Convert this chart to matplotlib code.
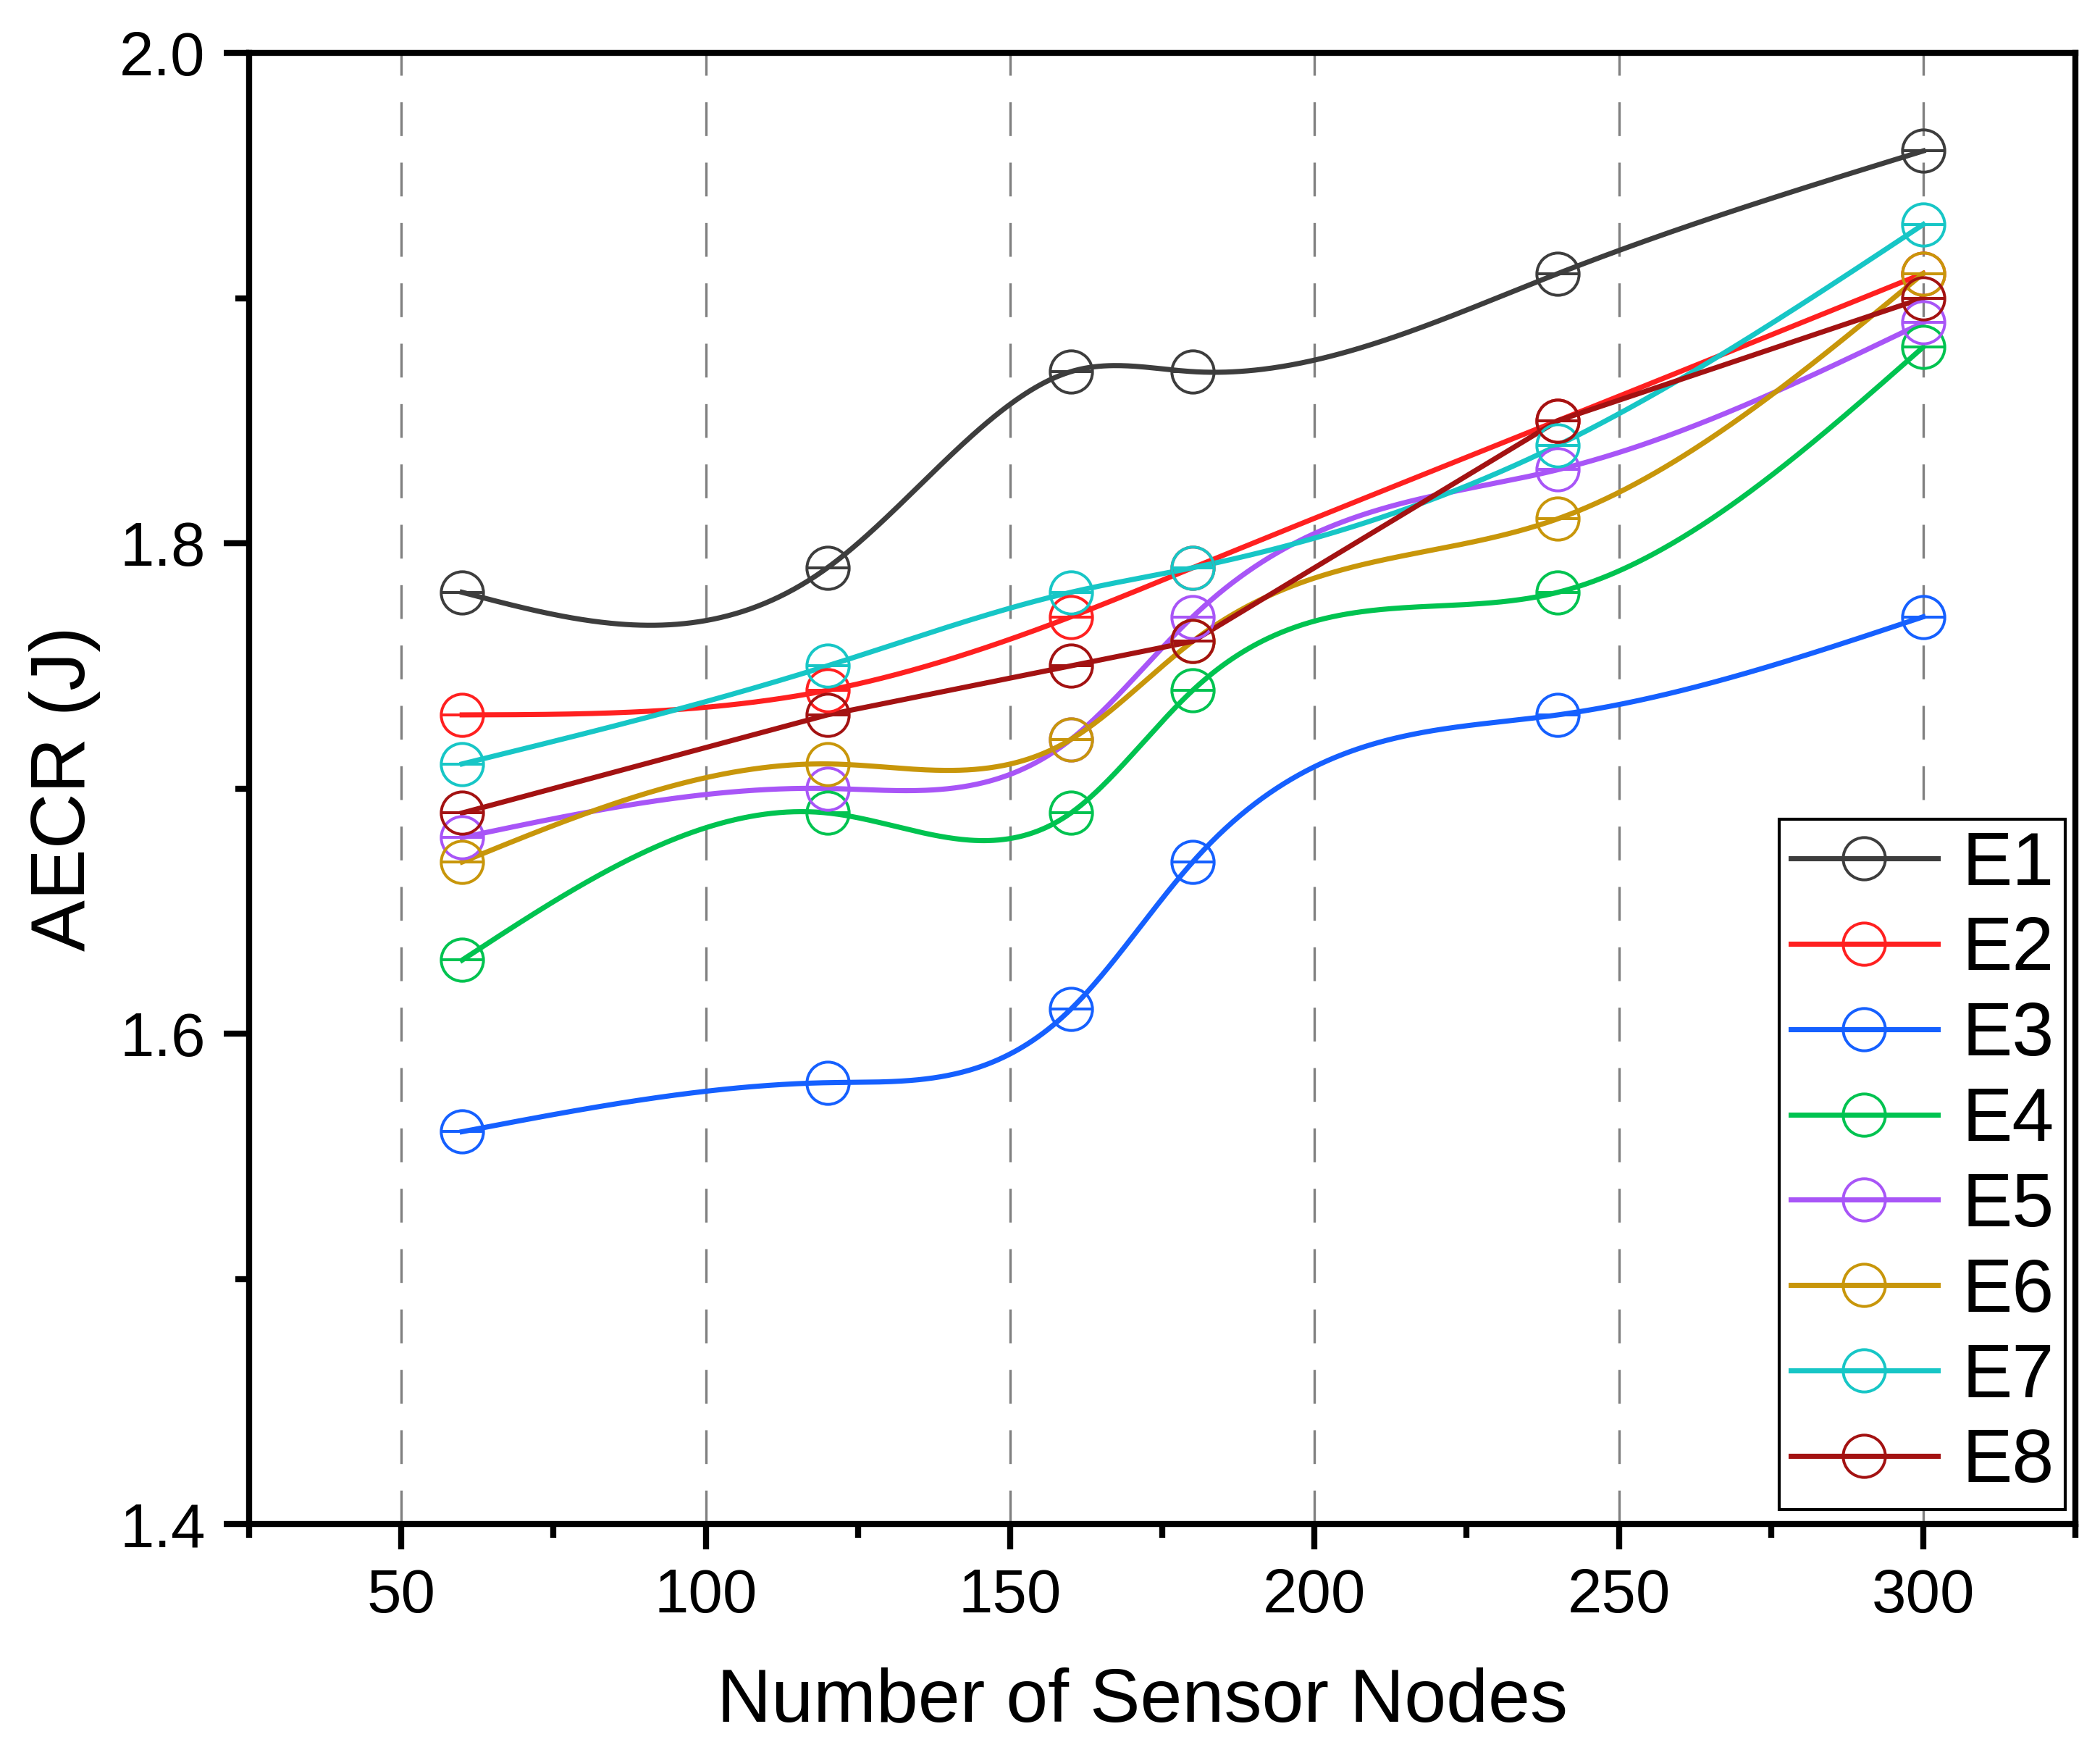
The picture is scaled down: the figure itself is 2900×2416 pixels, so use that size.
import numpy as np
import matplotlib
matplotlib.use("Agg")
import matplotlib.pyplot as plt
from matplotlib.lines import Line2D

plt.rcParams['font.family'] = ['Liberation Sans', 'DejaVu Sans']

# ---------------- data ----------------
nodes = [60, 120, 160, 180, 240, 300]
series_names = ["E1", "E2", "E3", "E4", "E5", "E6", "E7", "E8"]
E1 = [1.78, 1.79, 1.87, 1.87, 1.91, 1.96]
E2 = [1.73, 1.74, 1.77, 1.79, 1.85, 1.91]
E3 = [1.56, 1.58, 1.61, 1.67, 1.73, 1.77]
E4 = [1.63, 1.69, 1.69, 1.74, 1.78, 1.88]
E5 = [1.68, 1.70, 1.72, 1.77, 1.83, 1.89]
E6 = [1.67, 1.71, 1.72, 1.76, 1.81, 1.91]
E7 = [1.71, 1.75, 1.78, 1.79, 1.84, 1.93]
E8 = [1.69, 1.73, 1.75, 1.76, 1.85, 1.90]
series_values = [E1, E2, E3, E4, E5, E6, E7, E8]
series_smooth = [True, True, True, True, True, True, True, False]
colors = ['#3d3d3d', '#ff2020', '#1560ff', '#00c350', '#a855f7',
          '#c8960a', '#17c6c6', '#a31212']

x_ticks = [50, 100, 150, 200, 250, 300]
y_ticks = [1.4, 1.6, 1.8, 2.0]
y_tick_labels = ["1.4", "1.6", "1.8", "2.0"]


def natural_spline(x, y, xs):
    x = np.asarray(x, float)
    y = np.asarray(y, float)
    n = len(x)
    h = np.diff(x)
    A = np.zeros((n, n))
    b = np.zeros(n)
    A[0, 0] = 1.0
    A[-1, -1] = 1.0
    for i in range(1, n - 1):
        A[i, i - 1] = h[i - 1]
        A[i, i] = 2 * (h[i - 1] + h[i])
        A[i, i + 1] = h[i]
        b[i] = 6 * ((y[i + 1] - y[i]) / h[i] - (y[i] - y[i - 1]) / h[i - 1])
    M = np.linalg.solve(A, b)
    ys = np.empty_like(xs)
    for k, xv in enumerate(xs):
        i = min(max(np.searchsorted(x, xv) - 1, 0), n - 2)
        t1 = x[i + 1] - xv
        t0 = xv - x[i]
        ys[k] = (M[i] * t1 ** 3 / (6 * h[i]) + M[i + 1] * t0 ** 3 / (6 * h[i])
                 + (y[i] / h[i] - M[i] * h[i] / 6) * t1
                 + (y[i + 1] / h[i] - M[i + 1] * h[i] / 6) * t0)
    return ys


fig = plt.figure(figsize=(2900 / 300, 2416 / 300), dpi=300)
ax = fig.add_axes([344 / 2900, 1 - 2104 / 2416, (2866 - 344) / 2900, (2104 - 73) / 2416])

# vertical dashed grid
for xv in x_ticks:
    ax.axvline(xv, color='#808080', lw=0.8, dashes=(14, 11), zorder=0.5)

LW = 1.7
MS = 14.0
MEW = 0.95
handles = []
for name, vals, smooth, c in zip(series_names, series_values, series_smooth, colors):
    if smooth:
        xs = np.linspace(nodes[0], nodes[-1], 600)
        ys = natural_spline(nodes, vals, xs)
    else:
        xs, ys = np.asarray(nodes, float), np.asarray(vals, float)
    ax.plot(xs, ys, color=c, lw=LW, zorder=2)
    ax.plot(nodes, vals, linestyle='none', marker='o', ms=MS, mfc='none',
            mec=c, mew=MEW, zorder=3)
    ax.plot(nodes, vals, linestyle='none', marker='_', ms=MS, mec=c,
            mew=MEW, zorder=3)
    handles.append(Line2D([], [], color=c, lw=LW, marker='o', ms=MS,
                          mfc='none', mec=c, mew=MEW, label=name))

ax.set_xlim(25, 325)
ax.set_ylim(1.4, 2.0)
ax.set_xticks(x_ticks)
ax.set_xticks([25, 75, 125, 175, 225, 275, 325], minor=True)
ax.set_yticks(y_ticks)
ax.set_yticklabels(y_tick_labels)
ax.set_yticks([1.5, 1.7, 1.9], minor=True)

for s in ax.spines.values():
    s.set_linewidth(2.0)
    s.set_color('black')

ax.tick_params(axis='both', which='major', direction='out', length=8.5,
               width=2.0, labelsize=20.5, pad=6)
ax.tick_params(axis='both', which='minor', direction='out', length=4.5, width=2.0)
ax.tick_params(top=False, right=False, which='both')

ax.set_xlabel("Number of Sensor Nodes", fontsize=25)
ax.set_ylabel("AECR (J)", fontsize=25.5)
ax.xaxis.set_label_coords(0.489, -0.097)
ax.yaxis.set_label_coords((139 - 344) / (2866 - 344), 0.5)

leg = ax.legend(handles=handles, loc='lower right',
                bbox_to_anchor=(1 - 14 / 2522, 20 / 2031), borderaxespad=0,
                fontsize=25, frameon=True, fancybox=False, edgecolor='black',
                framealpha=1, handlelength=1.95, handletextpad=0.32,
                labelspacing=0.2, borderpad=0.15, numpoints=1)
leg.get_frame().set_linewidth(1.0)

fig.savefig("out.png", dpi=300, facecolor='white')
